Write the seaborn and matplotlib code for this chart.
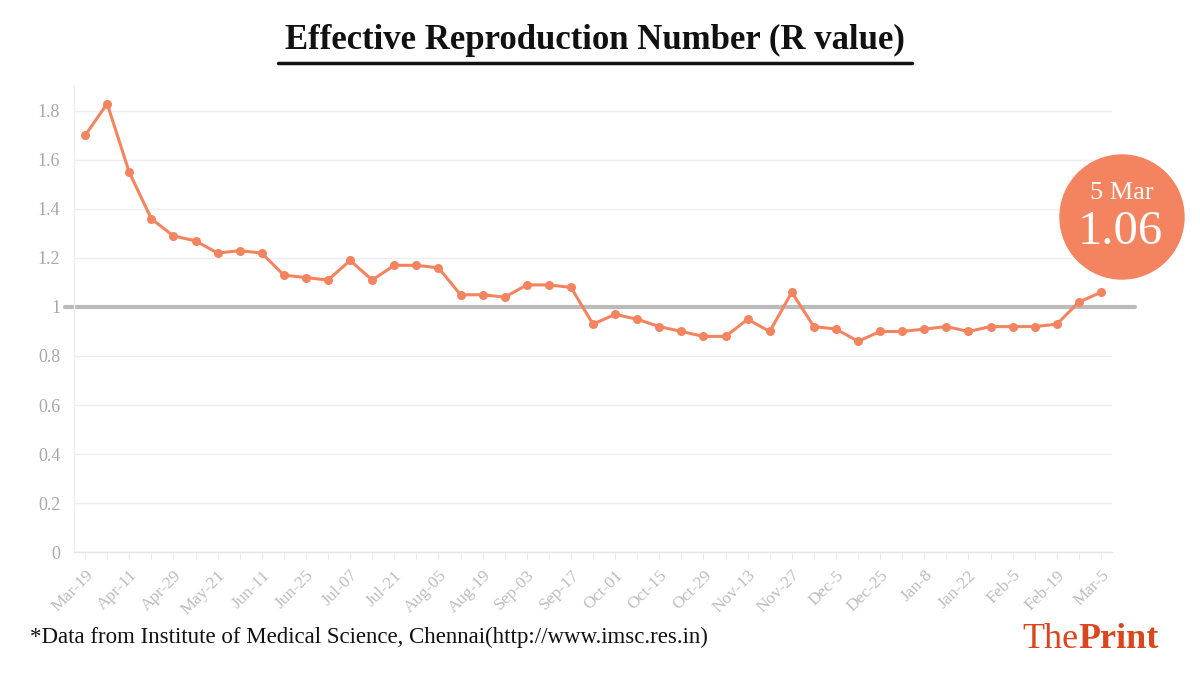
import numpy as np
import pandas as pd
import matplotlib
matplotlib.use('Agg')
import matplotlib.pyplot as plt
from matplotlib.patches import Circle
from matplotlib.lines import Line2D
import seaborn as sns

# R values, one every week or so from Mar-19 to Mar-5
r_values = [1.70, 1.83, 1.55, 1.36, 1.29, 1.27, 1.22, 1.23, 1.22, 1.13,
            1.12, 1.11, 1.19, 1.11, 1.17, 1.17, 1.16, 1.05, 1.05, 1.04,
            1.09, 1.09, 1.08, 0.93, 0.97, 0.95, 0.92, 0.90, 0.88, 0.88,
            0.95, 0.90, 1.06, 0.92, 0.91, 0.86, 0.90, 0.90, 0.91, 0.92,
            0.90, 0.92, 0.92, 0.92, 0.93, 1.02, 1.06]
# labels shown on every second point
tick_labels = ['Mar-19', 'Apr-11', 'Apr-29', 'May-21', 'Jun-11', 'Jun-25',
               'Jul-07', 'Jul-21', 'Aug-05', 'Aug-19', 'Sep-03', 'Sep-17',
               'Oct-01', 'Oct-15', 'Oct-29', 'Nov-13', 'Nov-27', 'Dec-5',
               'Dec-25', 'Jan-8', 'Jan-22', 'Feb-5', 'Feb-19', 'Mar-5']
y_ticks = [0, 0.2, 0.4, 0.6, 0.8, 1.0, 1.2, 1.4, 1.6, 1.8]
y_tick_labels = ['0', '0.2', '0.4', '0.6', '0.8', '1', '1.2', '1.4', '1.6', '1.8']
latest_date = '5 Mar'
latest_value = '1.06'

orange = '#f4845f'
serif = ['Liberation Serif', 'DejaVu Serif']

sns.set_style("white")
plt.rcParams['font.family'] = serif

df = pd.DataFrame({'idx': np.arange(len(r_values)), 'r': r_values})

fig = plt.figure(figsize=(12, 6.75), dpi=100)
ax = fig.add_axes([0.0617, 0.1822, 0.865, 0.6897])

# grid
for yt in y_ticks:
    ax.axhline(yt, color='#eeeeee', lw=1, zorder=0)

# threshold line at R = 1
ax.axhline(1.0, xmin=-0.009, xmax=1.022, color='#bbbbbb', lw=3,
           zorder=1, clip_on=False)

sns.lineplot(data=df, x='idx', y='r', ax=ax, color=orange, lw=2.2,
             marker='o', markersize=6.5, markeredgewidth=0, zorder=3)

ax.set_xlim(-0.5, len(r_values) - 0.5)
ax.set_ylim(0, 1.9)
ax.set_xlabel('')
ax.set_ylabel('')

ax.set_yticks(y_ticks)
ax.set_yticklabels(y_tick_labels, color='#a8a8a8', fontsize=13)
ax.tick_params(axis='y', length=0, pad=10)

ax.set_xticks(np.arange(0, len(r_values), 2))
ax.set_xticklabels(tick_labels, rotation=45, ha='right', rotation_mode='anchor',
                   color='#bdbdbd', fontsize=12.5)
ax.set_xticks(np.arange(len(r_values)), minor=True)
ax.tick_params(axis='x', which='both', length=5, color='#e6e6e6', pad=6,
               bottom=True, direction='out')

for side in ['top', 'right']:
    ax.spines[side].set_visible(False)
ax.spines['left'].set_color('#eeeeee')
ax.spines['bottom'].set_color('#e6e6e6')
ax.spines['left'].set_linewidth(1)
ax.spines['bottom'].set_linewidth(1)

# title with underline
fig.text(0.496, 0.94, 'Effective Reproduction Number (R value)', ha='center',
         va='center', fontsize=25, fontweight='bold', color='#111111')
fig.add_artist(Line2D([278 / 1200, 912 / 1200], [1 - 63 / 675, 1 - 63 / 675],
                      color='#111111', lw=2.5, transform=fig.transFigure))

# latest value bubble
fig.add_artist(Circle((11.22, 4.58), 0.62, transform=fig.dpi_scale_trans,
                      color=orange, zorder=5))
fig.text(1122 / 1200, 1 - 193 / 675, latest_date, ha='center', va='center',
         fontsize=19, color='white', zorder=6)
fig.text(1120 / 1200, 1 - 232 / 675, latest_value, ha='center', va='center',
         fontsize=35, color='white', zorder=6)

# footer
fig.text(30 / 1200, 1 - 637 / 675,
         '*Data from Institute of Medical Science, Chennai(http://www.imsc.res.in)',
         ha='left', va='center', fontsize=16.5, color='#111111')
t1 = fig.text(1022 / 1200, 1 - 640 / 675, 'The', ha='left', va='center',
              fontsize=26, color='#d9471e')
fig.canvas.draw()
bb = t1.get_window_extent()
fig.text(bb.x1 / 1200, 1 - 640 / 675, 'Print', ha='left', va='center',
         fontsize=26, fontweight='bold', color='#d9471e')

fig.savefig('out.png', dpi=100)
